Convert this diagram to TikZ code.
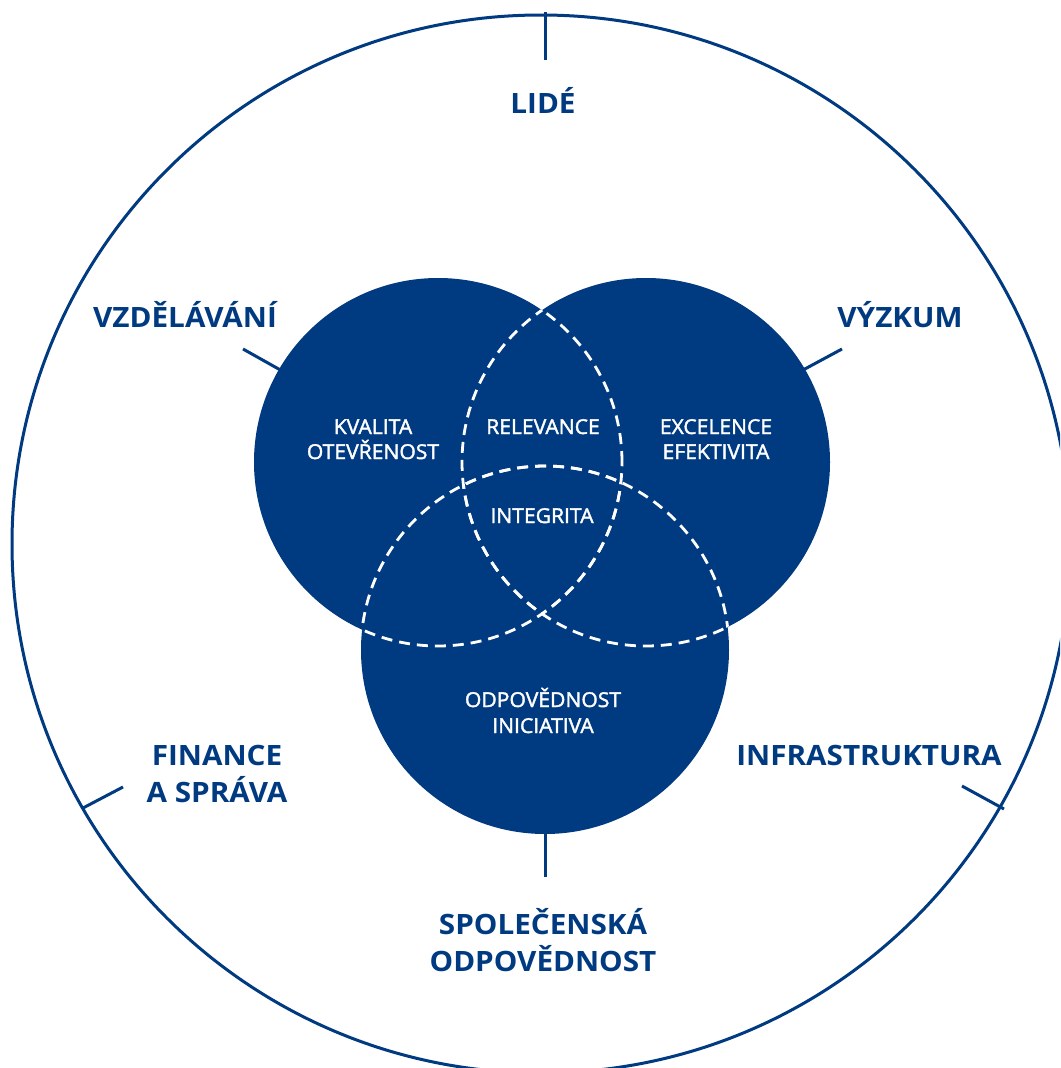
\documentclass[tikz,border=0pt]{standalone}
\usepackage{fontspec}
\setmainfont{Open Sans}
\newfontfamily\outerfont{Open Sans Bold}[FakeStretch=1.06]
\newfontfamily\innerfont{Open Sans}[FakeBold=1.8, FakeStretch=1.03]
\definecolor{cublue}{HTML}{003A80}
\tikzset{
  outerlbl/.style={text=cublue, anchor=base, inner sep=0pt, font=\outerfont\fontsize{28}{34}\selectfont},
  innerlbl/.style={text=white, anchor=base, inner sep=0pt, font=\innerfont\fontsize{20.5}{24}\selectfont},
  blueline/.style={draw=cublue, line width=3pt},
  wdash/.style={draw=white, line width=2.8pt, dash pattern=on 11pt off 7pt},
  vennfill/.style={fill=cublue}
}
\begin{document}
\begin{tikzpicture}[x=1pt,y=-1pt]
\useasboundingbox (0,0) rectangle (1060,1068);
\clip (0,0) rectangle (1060,1068);
\fill[white] (0,0) rectangle (1060,1068);
% centres
\coordinate (cO) at (541,544);
\coordinate (cL) at (438,462);
\coordinate (cR) at (646,462);
\coordinate (cB) at (545,650);
% outer circle
\draw[blueline] (cO) circle[radius=529pt];
% venn circles
\fill[vennfill] (cL) circle[radius=184pt];
\fill[vennfill] (cR) circle[radius=184pt];
\fill[vennfill] (cB) circle[radius=184pt];
% dashed arcs
\begin{scope}\clip (cR) circle[radius=184pt]; \draw[wdash] (cL) circle[radius=184pt];\end{scope}
\begin{scope}\clip (cB) circle[radius=184pt]; \draw[wdash] (cL) circle[radius=184pt];\end{scope}
\begin{scope}\clip (cL) circle[radius=184pt]; \draw[wdash] (cR) circle[radius=184pt];\end{scope}
\begin{scope}\clip (cB) circle[radius=184pt]; \draw[wdash] (cR) circle[radius=184pt];\end{scope}
\begin{scope}\clip (cL) circle[radius=184pt]; \draw[wdash] (cB) circle[radius=184pt];\end{scope}
\begin{scope}\clip (cR) circle[radius=184pt]; \draw[wdash] (cB) circle[radius=184pt];\end{scope}
% ticks
\coordinate (t1a) at (545,12);  \coordinate (t1b) at (545,60);
\coordinate (t2a) at (545,832); \coordinate (t2b) at (545,877);
\coordinate (t3a) at (284,372); \coordinate (t3b) at (243,349);
\coordinate (t4a) at (803,370); \coordinate (t4b) at (842,349);
\coordinate (t5a) at (83,808);  \coordinate (t5b) at (123,787);
\coordinate (t6a) at (1004,809); \coordinate (t6b) at (962,786);
\draw[blueline] (t1a) -- (t1b);
\draw[blueline] (t2a) -- (t2b);
\draw[blueline] (t3a) -- (t3b);
\draw[blueline] (t4a) -- (t4b);
\draw[blueline] (t5a) -- (t5b);
\draw[blueline] (t6a) -- (t6b);
% outer labels
\node[outerlbl] (lide) at (543,113) {LIDÉ};
\node[outerlbl] (vzdel) at (185,327) {VZDĚLÁVÁNÍ};
\node[outerlbl] (vyzk) at (900,327) {VÝZKUM};
\node[outerlbl] (fin1) at (217,765) {FINANCE};
\node[outerlbl] (fin2) at (217,802) {A SPRÁVA};
\node[outerlbl] (infra) at (869,765) {INFRASTRUKTURA};
\node[outerlbl] (spol1) at (543,934) {SPOLEČENSKÁ};
\node[outerlbl] (spol2) at (543,971) {ODPOVĚDNOST};
% inner labels
\node[innerlbl] (kval) at (373,434) {KVALITA};
\node[innerlbl] (otev) at (373,459) {OTEVŘENOST};
\node[innerlbl] (rel) at (543,434) {RELEVANCE};
\node[innerlbl] (exc) at (716,434) {EXCELENCE};
\node[innerlbl] (efk) at (716,459) {EFEKTIVITA};
\node[innerlbl] (integ) at (542,523) {INTEGRITA};
\node[innerlbl] (odp) at (543,707) {ODPOVĚDNOST};
\node[innerlbl] (inic) at (543,733) {INICIATIVA};
\end{tikzpicture}
\end{document}
